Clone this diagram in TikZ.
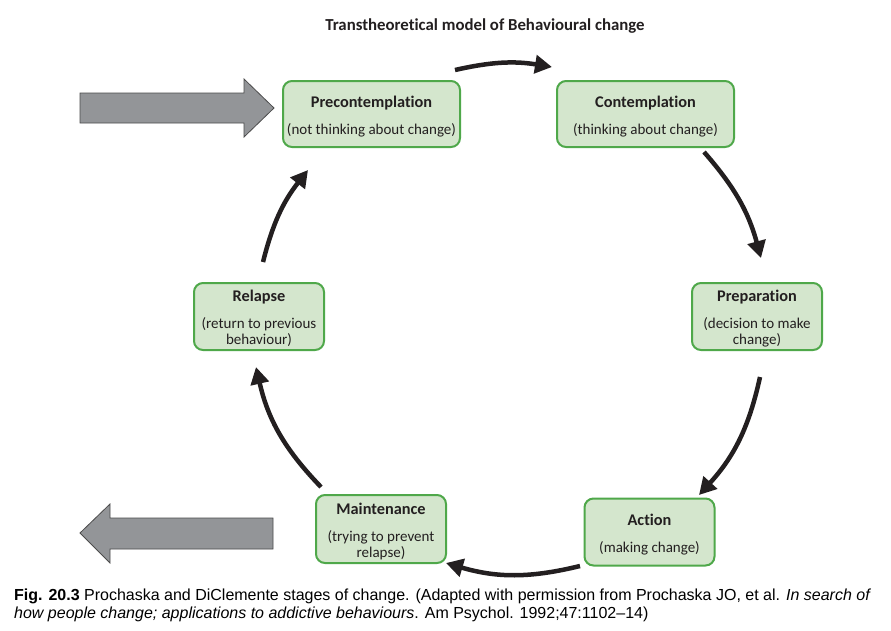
\documentclass[tikz,border=0pt]{standalone}
\usepackage{fontspec}
\setmainfont{Carlito}[Ligatures={NoCommon,TeX}]
\newfontfamily\capfont{Liberation Sans}
\usetikzlibrary{arrows.meta}
\definecolor{boxfill}{HTML}{D4E6CD}
\definecolor{boxdraw}{HTML}{4FA84A}
\definecolor{arrgray}{HTML}{939598}
\definecolor{txt}{HTML}{231F20}
\newcommand{\stt}[1]{{\fontsize{16.3}{16}\selectfont\bfseries\rule{0pt}{16pt}#1}}
\begin{document}
\begin{tikzpicture}[x=1pt,y=-1pt,
  stage/.style={draw=boxdraw, fill=boxfill, line width=2pt, rounded corners=9pt,
    align=center, font=\fontsize{15}{16}\selectfont, text=txt, inner sep=0pt},
  wide/.style={minimum width=177pt, minimum height=66pt},
  narrow/.style={minimum width=130pt, minimum height=67pt},
  cyc/.style={line width=4.5pt, draw=txt, -{Triangle[length=17pt,width=18pt]}},
  bigarrow/.style={fill=arrgray, draw=black!70, line width=0.8pt},
  ttl/.style={font=\fontsize{16.8}{18}\selectfont\bfseries, text=txt},
  capt/.style={anchor=base west, inner sep=0pt, text=black, font=\capfont\fontsize{16}{19}\selectfont}]
\useasboundingbox (0,0) rectangle (891,630);
\fill[white] (0,0) rectangle (891,630);

\node[ttl] (title) at (485,26.5) {Transtheoretical model of Behavioural change};

\node[stage, wide] (pre) at (371.5,114) {\stt{Precontemplation}\\[11pt](not thinking about change)};
\node[stage, wide] (con) at (645.5,114) {\stt{Contemplation}\\[11pt](thinking about change)};
\node[stage, narrow] (prep) at (757,316.5) {\stt{Preparation}\\[11pt](decision to make\\change)};
\node[stage, narrow] (act) at (649.5,532) {\stt{Action}\\[11pt](making change)};
\node[stage, narrow, minimum height=68pt] (main) at (381,529) {\stt{Maintenance}\\[11pt](trying to prevent\\relapse)};
\node[stage, narrow] (rel) at (259,316.5) {\stt{Relapse}\\[11pt](return to previous\\behaviour)};

\coordinate (a1s) at (455,70);  \coordinate (a1e) at (552,67);
\coordinate (a2s) at (704,152); \coordinate (a2e) at (761,258);
\coordinate (a3s) at (760,377); \coordinate (a3e) at (699,495);
\coordinate (a4s) at (580,566); \coordinate (a4e) at (446,563);
\coordinate (a5s) at (321,487); \coordinate (a5e) at (256,367);
\coordinate (a6s) at (263,262); \coordinate (a6e) at (308,170);

\draw[cyc] (a1s) to[bend left=11] (a1e);
\draw[cyc] (a2s) to[bend left=13] (a2e);
\draw[cyc] (a3s) to[bend left=15] (a3e);
\draw[cyc] (a4s) to[bend left=15] (a4e);
\draw[cyc] (a5s) to[bend left=15.5] (a5e);
\draw[cyc] (a6s) to[bend left=12] (a6e);

\draw[bigarrow] (80,93) -- (244,93) -- (244,79) -- (274,108) -- (244,137) -- (244,123) -- (80,123) -- cycle;
\draw[bigarrow] (273,518) -- (110,518) -- (110,504) -- (80,533) -- (110,563) -- (110,549) -- (273,549) -- cycle;

\node[capt] (cap1) at (14,600)
  {\textbf{Fig. 20.3} Prochaska and DiClemente stages of change. (Adapted with permission from Prochaska JO, et al. \textit{In search of}};
\node[capt] (cap2) at (14,618)
  {\textit{how people change; applications to addictive behaviours}. Am Psychol. 1992;47:1102–14)};
\end{tikzpicture}
\end{document}
